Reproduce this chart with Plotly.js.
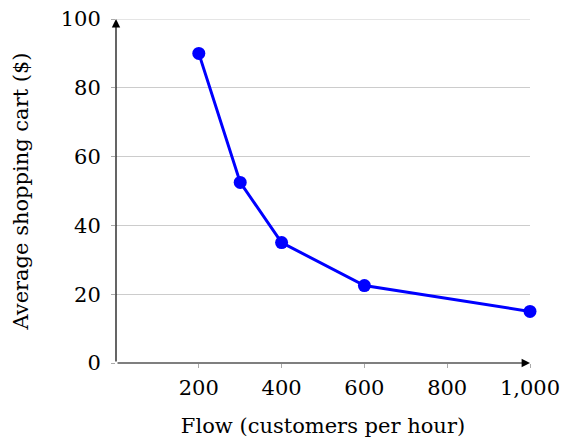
<!DOCTYPE html>
<html>
<head>
<meta charset="utf-8">
<script src="https://cdn.plot.ly/plotly-3.0.1.min.js"></script>
<style>html,body{margin:0;padding:0;background:#fff;}#chart{width:561px;height:438px;}</style>
</head>
<body>
<div id="chart"></div>
<script>
const flow = [200, 300, 400, 600, 1000];
const cart = [90, 52.5, 35, 22.5, 15];
const xTicks = [200, 400, 600, 800, 1000];
const xTickLabels = ['200', '400', '600', '800', '1,000'];
const yTicks = [0, 20, 40, 60, 80, 100];
const xTitle = 'Flow (customers per hour)';
const yTitle = 'Average shopping cart ($)';

const font = {family: '"DejaVu Serif", "Liberation Serif", serif', size: 21, color: '#000'};

const trace = {
  x: flow, y: cart, type: 'scatter', mode: 'lines+markers',
  line: {color: '#0000ff', width: 3},
  marker: {color: '#0000ff', size: 13},
  cliponaxis: false, hoverinfo: 'none'
};

const layout = {
  width: 561, height: 438,
  margin: {l: 116, r: 31, t: 19, b: 75},
  paper_bgcolor: '#fff', plot_bgcolor: '#fff',
  showlegend: false,
  font: font,
  xaxis: {
    range: [0, 1000], tickvals: xTicks, ticktext: xTickLabels,
    showgrid: false, zeroline: false, showline: false,
    ticks: 'outside', ticklen: 4, tickcolor: '#aaaaaa', tickwidth: 1,
    tickfont: font, ticklabelstandoff: 2,
    title: {text: xTitle, font: font, standoff: 19}
  },
  yaxis: {
    range: [0, 100], tickvals: yTicks,
    showgrid: true, gridcolor: '#cccccc', gridwidth: 1,
    zeroline: false, showline: false,
    ticks: 'outside', ticklen: 4, tickcolor: '#aaaaaa', tickwidth: 1,
    tickfont: font, ticklabelstandoff: 6,
    title: {text: yTitle, font: font, standoff: 26}
  },
  shapes: [
    {type: 'line', xref: 'paper', yref: 'y', x0: 0, x1: 1, y0: 100, y1: 100,
     line: {color: '#cccccc', width: 1}, layer: 'below'}
  ],
  annotations: [
    {x: 1000, y: 0, ax: 0, ay: 0, xref: 'x', yref: 'y', axref: 'x', ayref: 'y',
     text: '', showarrow: true, arrowhead: 2, arrowsize: 1.4, arrowwidth: 1.2, arrowcolor: '#000', standoff: 0, startstandoff: 0},
    {x: 0, y: 100, ax: 0, ay: 0, xref: 'x', yref: 'y', axref: 'x', ayref: 'y',
     text: '', showarrow: true, arrowhead: 2, arrowsize: 1.4, arrowwidth: 1.2, arrowcolor: '#000', standoff: 0, startstandoff: 0}
  ]
};

Plotly.newPlot('chart', [trace], layout, {displayModeBar: false, staticPlot: true});
</script>
</body>
</html>
